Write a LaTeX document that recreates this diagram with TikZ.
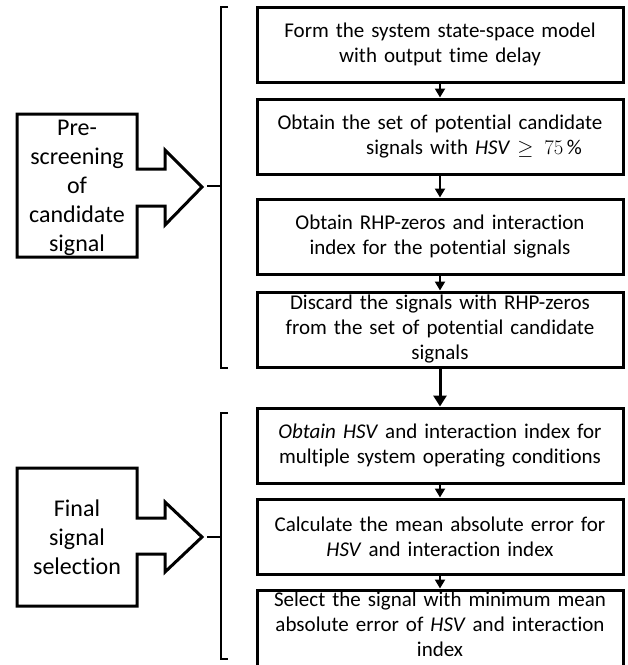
\documentclass[tikz,border=0pt]{standalone}
\usepackage{fontspec}
\setmainfont{Carlito}[Ligatures=NoCommon]
\usetikzlibrary{arrows.meta, positioning}

\begin{document}
\begin{tikzpicture}[
  x=1pt, y=-1pt,
  stepbox/.style={draw, line width=3pt, align=center, text width=358pt,
                  minimum width=366pt, minimum height=75pt, inner ysep=0pt,
                  font=\fontsize{21}{25}\selectfont},
  stage/.style={draw, line width=3pt, line join=miter},
  brace/.style={draw, line width=2pt},
  label/.style={align=center, font=\fontsize{24}{29}\selectfont},
  flow/.style={-{Triangle[width=10pt, length=9pt]}, line width=2pt},
  bigflow/.style={-{Triangle[width=13pt, length=11pt]}, line width=3pt}
]
\useasboundingbox (0,0) rectangle (628,665);

% right column
\node[stepbox] (form) at (440,44.5) {Form the system state-space model\\with output time delay};
\node[stepbox, below=14pt of form] (cand) {Obtain the set of potential candidate\\\hspace*{68pt}signals with \textit{HSV} $\geq 75\,\%$};
\node[stepbox, below=22pt of cand] (rhp) {Obtain RHP-zeros and interaction\\index for the potential signals};
\node[stepbox, below=15pt of rhp] (discard) {Discard the signals with RHP-zeros\\from the set of potential candidate\\signals};
\node[stepbox, below=38pt of discard] (multi) {\textit{Obtain HSV} and interaction index for\\multiple system operating conditions};
\node[stepbox, below=13pt of multi] (mae) {Calculate the mean absolute error for\\\textit{HSV} and interaction index};
\node[stepbox, below=13pt of mae, inner ysep=2pt] (select) {Select the signal with minimum mean\\absolute error of \textit{HSV} and interaction\\index\\[-15pt]\mbox{}};

\draw[flow] (form) -- (cand);
\draw[flow] (cand) -- (rhp);
\draw[flow] (rhp) -- (discard);
\draw[bigflow] (discard) -- (multi);
\draw[flow] (multi) -- (mae);
\draw[flow] (mae) -- (select);

% braces
\draw[brace] (228,7) -- (221,7) -- (221,368) -- (228,368);
\draw[brace] (221,186) -- (207,186);
\draw[brace] (228,413) -- (221,413) -- (221,659) -- (228,659);
\draw[brace] (221,537) -- (207,537);

% left stages
\draw[stage] (17,114) -- (137,114) -- (137,169) -- (165,169) -- (165,150) -- (202,187)
  -- (165,225) -- (165,206) -- (137,206) -- (137,257) -- (17,257) -- cycle;
\node[label] (prescreen) at (77,188) {Pre-\\screening\\of\\candidate\\signal};

\draw[stage] (17,468) -- (137,468) -- (137,518) -- (165,518) -- (165,502) -- (202,537)
  -- (165,572) -- (165,554) -- (137,554) -- (137,606) -- (17,606) -- cycle;
\node[label] (final) at (77,537) {Final\\signal\\selection};

\end{tikzpicture}
\end{document}
